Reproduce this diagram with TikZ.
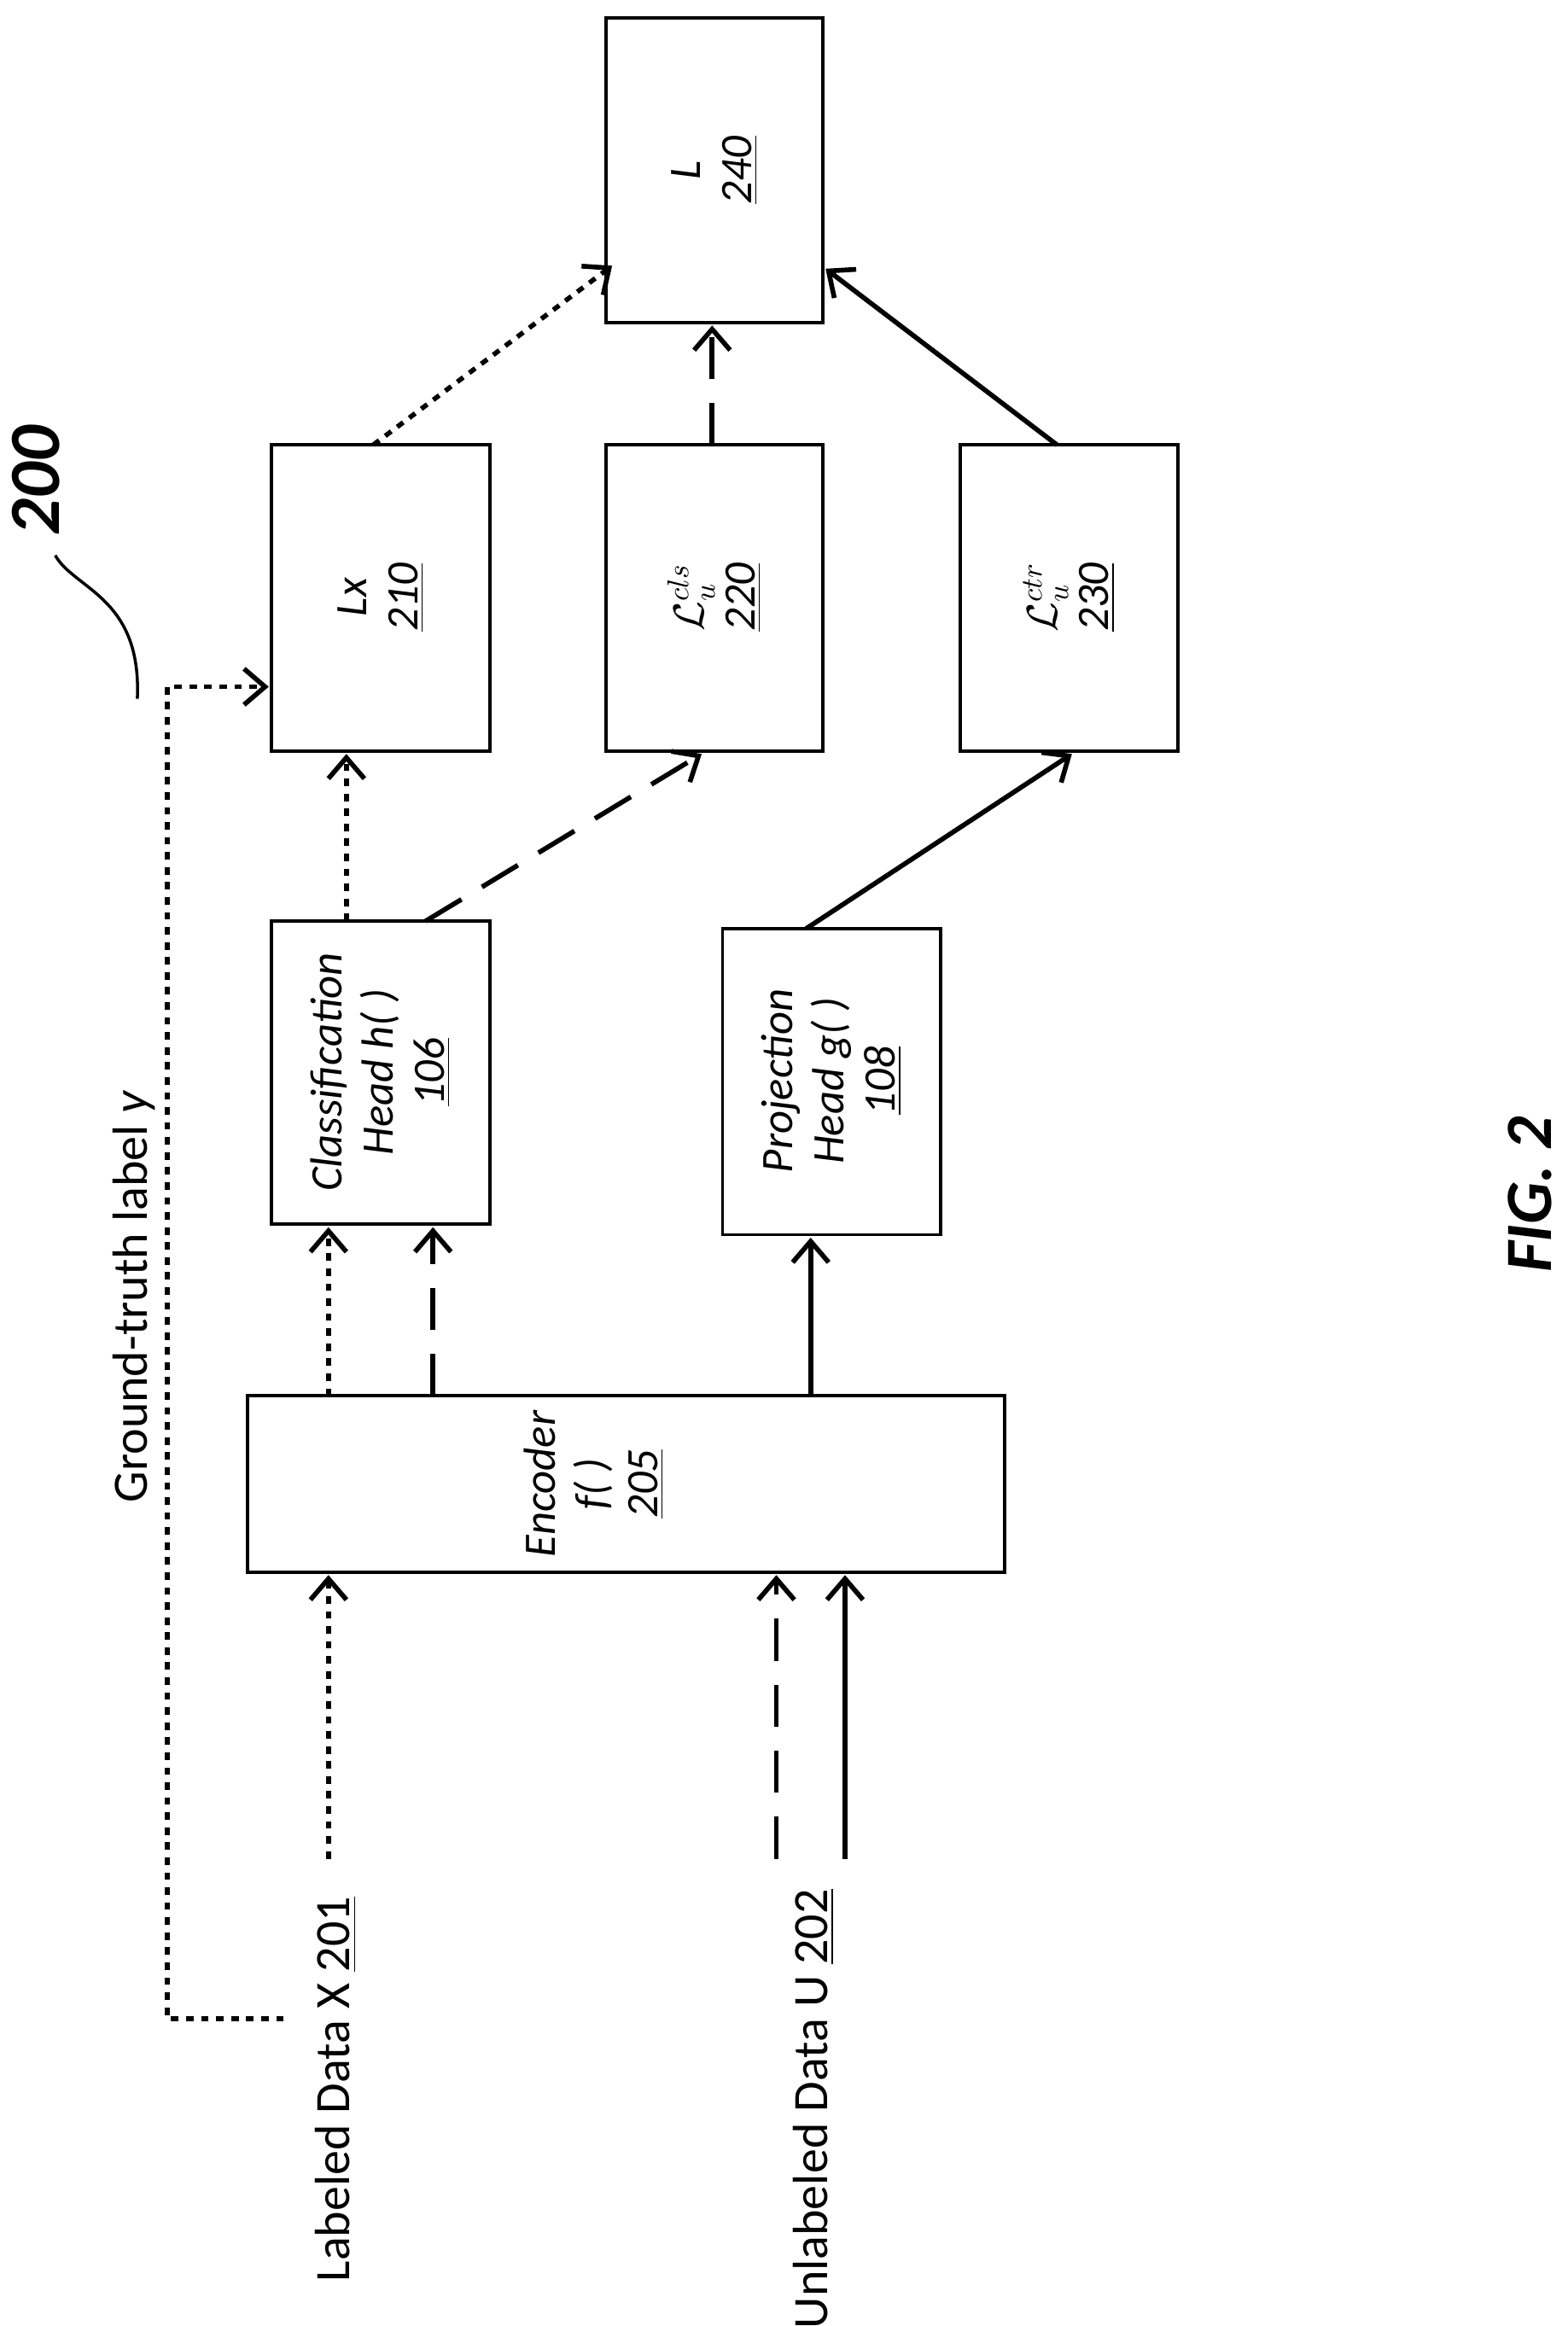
\documentclass[tikz,border=0pt]{standalone}
\usepackage{fontspec}
\setmainfont{Carlito}
\usetikzlibrary{arrows.meta,positioning}
\tikzset{
	blk/.style={draw, line width=1.1pt, inner sep=0, outer sep=0},
	lbl/.style={rotate=90, font=\itshape\fontsize{15}{17}\selectfont, align=center},
	txt/.style={rotate=90, anchor=east, inner sep=0, font=\fontsize{16.5}{19}\selectfont},
	dot/.style={line width=1.6pt, dash pattern=on 2.5pt off 2.5pt},
	dsh/.style={line width=1.6pt, dash pattern=on 14pt off 8pt},
	sld/.style={line width=1.6pt},
	>={Straight Barb[length=7pt,width=12pt]}
}
\begin{document}
\begin{tikzpicture}[x=0.01749cm, y=-0.01749cm]
\useasboundingbox (0,0) rectangle (1050,1558);
% boxes
\draw[blk] (406,12) rectangle (551,216);
\node[lbl] (loss) at (478.5,114) {L\\\underline{240}};
\draw[blk] (182,298) rectangle (328,503);
\node[lbl] (lx) at (255,400) {Lx\\\underline{210}};
\draw[blk] (406,298) rectangle (551,503);
\node[lbl] (lcls) at (478.5,400) {\Large$\mathcal{L}_u^{cls}$\\\underline{220}};
\draw[blk] (643,298) rectangle (789,503);
\node[lbl] (lctr) at (716,400) {\Large$\mathcal{L}_u^{ctr}$\\\underline{230}};
\draw[blk] (182,617) rectangle (328,820);
\node[lbl] (cls) at (255,718) {Classification\\Head h( )\\\underline{106}};
\draw[blk] (484,622) rectangle (630,827);
\node[lbl] (proj) at (557,724) {Projection\\Head g( )\\\underline{108}};
\draw[blk] (166,935) rectangle (673,1053);
\node[lbl] (enc) at (398,994) {Encoder\\f( )\\\underline{205}};
% texts
\node[txt] (xdata) at (225,1270) {Labeled Data X \underline{201}};
\node[txt] (udata) at (545,1265) {Unlabeled Data U \underline{202}};
\node[txt] (gt) at (90,730) {Ground-truth label \textit{y}};
\node[rotate=90, font=\bfseries\itshape\fontsize{24}{26}\selectfont] (fig) at (24,322) {200};
\node[rotate=90, font=\bfseries\itshape\fontsize{22}{24}\selectfont] (figno) at (1025,800) {FIG. 2};
\draw[line width=1pt] (37,372) .. controls (50,395) and (95,400) .. (92,468);
% connectors
\draw[dot,->] (250,298) coordinate (a1) -- (410,178) coordinate (a2);
\draw[dsh,->] (477,298) coordinate (b1) -- (477,218) coordinate (b2);
\draw[sld,->] (708,298) coordinate (c1) -- (553,180) coordinate (c2);
\draw[dot,->] (232,617) coordinate (d1) -- (232,505) coordinate (d2);
\draw[dsh,->] (285,617) coordinate (e1) -- (470,505) coordinate (e2);
\draw[sld,->] (540,622) coordinate (f1) -- (718,505) coordinate (f2);
\draw[dot,->] (220,935) coordinate (g1) -- (220,822) coordinate (g2);
\draw[dsh,->] (290,935) coordinate (h1) -- (290,822) coordinate (h2);
\draw[sld,->] (543,935) coordinate (i1) -- (543,829) coordinate (i2);
\draw[dot,->] (220,1245) coordinate (j1) -- (220,1055) coordinate (j2);
\draw[dsh,->] (520,1245) coordinate (k1) -- (520,1055) coordinate (k2);
\draw[sld,->] (566,1245) coordinate (l1) -- (566,1055) coordinate (l2);
\draw[dot,->] (190,1352) coordinate (m1) -- (112,1352) -- (112,460) -- (180,460) coordinate (m2);
\end{tikzpicture}
\end{document}
